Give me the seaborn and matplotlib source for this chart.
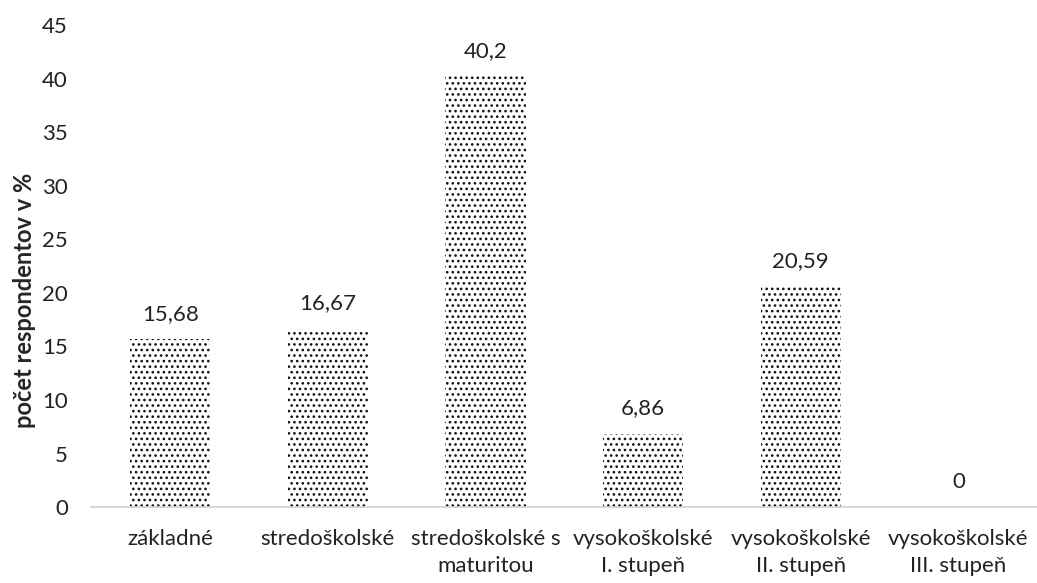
import matplotlib
matplotlib.use("Agg")
import matplotlib.pyplot as plt
import seaborn as sns
import pandas as pd

# data
categories = ["základné", "stredoškolské", "stredoškolské s\nmaturitou",
              "vysokoškolské\nI. stupeň", "vysokoškolské\nII. stupeň",
              "vysokoškolské\nIII. stupeň"]
values = [15.68, 16.67, 40.2, 6.86, 20.59, 0]
value_labels = ["15,68", "16,67", "40,2", "6,86", "20,59", "0"]
y_ticks = [0, 5, 10, 15, 20, 25, 30, 35, 40, 45]

df = pd.DataFrame({"kategoria": categories, "podiel": values})

sns.set_style("white")
plt.rcParams["font.family"] = ["Lato", "DejaVu Sans"]
plt.rcParams["hatch.linewidth"] = 1.1

fig = plt.figure(figsize=(10.37, 5.83), dpi=100)
ax = fig.add_axes([0.0882, 0.130, 0.912, 0.827])

sns.barplot(data=df, x="kategoria", y="podiel", color="white",
            edgecolor="#111111", linewidth=0, hatch="...", width=0.51, ax=ax)

ax.bar_label(ax.containers[0], labels=value_labels, padding=11,
             fontsize=16, color="#222222")

ax.set_ylim(0, 45)
ax.set_xlim(-0.5, 5.5)
ax.set_yticks(y_ticks)
ax.set_yticklabels([str(t) for t in y_ticks])
ax.tick_params(axis="both", length=0, labelsize=16, colors="#222222")
ax.tick_params(axis="y", pad=17)
ax.tick_params(axis="x", pad=16)
for lbl in ax.get_xticklabels():
    lbl.set_linespacing(1.4)

ax.set_xlabel("")
ax.set_ylabel("počet respondentov v %", fontsize=17, fontweight="bold")
ax.yaxis.set_label_coords(-0.059, 0.43)

for side in ["top", "right", "left"]:
    ax.spines[side].set_visible(False)
ax.spines["bottom"].set_color("#d0d0d0")
ax.spines["bottom"].set_linewidth(1.2)

fig.savefig("out.png", dpi=100)
plt.close()
